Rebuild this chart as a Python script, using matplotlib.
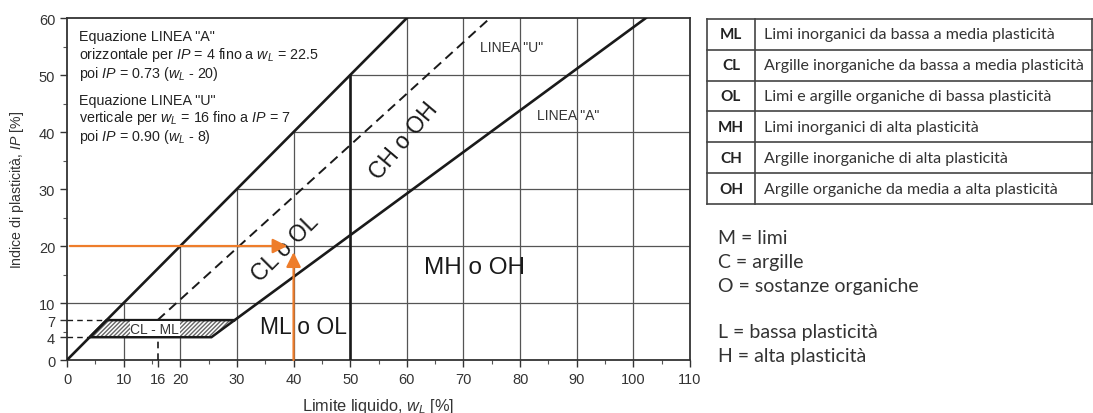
import matplotlib
matplotlib.use("Agg")
import matplotlib.pyplot as plt
from matplotlib.patches import Polygon

plt.rcParams['font.family'] = ['Liberation Sans', 'DejaVu Sans']
plt.rcParams['mathtext.fontset'] = 'custom'
plt.rcParams['mathtext.rm'] = 'Liberation Sans'
plt.rcParams['mathtext.it'] = 'Liberation Sans:italic'

# lines (wL, IP)
upper_x = [0, 60]
upper_y = [0, 60]
line_a_x = [29.6, 102.2]
line_a_y = [7, 60]
line_u_x = [16, 74.7]
line_u_y = [7, 60]
wl50_x = [50, 50]
wl50_y = [0, 50]
clml_x = [4, 25.5, 29.6, 7]
clml_y = [4, 4, 7, 7]

x_ticks = [0, 10, 16, 20, 30, 40, 50, 60, 70, 80, 90, 100, 110]
y_ticks = [0, 4, 7, 10, 20, 30, 40, 50, 60]
grid_x = [10, 20, 30, 40, 50, 60, 70, 80, 90, 100]
grid_y = [10, 20, 30, 40, 50]
# where each horizontal grid line starts (most start on the IP = wL line)
grid_y_start = [0, 20, 30, 40, 50]

sample_wl = 40
sample_ip = 20

codes = ['ML', 'CL', 'OL', 'MH', 'CH', 'OH']
descriptions = [
    'Limi inorganici da bassa a media plasticità',
    'Argille inorganiche da bassa a media plasticità',
    'Limi e argille organiche di bassa plasticità',
    'Limi inorganici di alta plasticità',
    'Argille inorganiche di alta plasticità',
    'Argille organiche da media a alta plasticità',
]
key_lines = ['M = limi', 'C = argille', 'O = sostanze organiche', '', 'L = bassa plasticità', 'H = alta plasticità']

orange = '#EE7D2B'
dark = '#1a1a1a'

fig = plt.figure(figsize=(10.93, 4.14), dpi=100)
ax = fig.add_axes([0.0613, 0.128, 0.57, 0.826])

# grid (only below the IP = wL line)
for gx in grid_x:
    ax.plot([gx, gx], [0, min(gx, 60)], color='#555555', lw=0.9, zorder=1)
for gy, gs in zip(grid_y, grid_y_start):
    ax.plot([gs, 110], [gy, gy], color='#555555', lw=0.9, zorder=1)

# hatched CL-ML zone
poly = Polygon(list(zip(clml_x, clml_y)), closed=True, facecolor='white',
               edgecolor='#666666', hatch='////////', lw=0, zorder=2)
ax.add_patch(poly)
ax.add_patch(Polygon(list(zip(clml_x, clml_y)), closed=True, fill=False,
                     edgecolor=dark, lw=1.8, zorder=3))

# dashed guides
ax.plot([0, clml_x[0]], [4, 4], color=dark, lw=1, ls=(0, (4, 3)), zorder=3)
ax.plot([0, clml_x[3]], [7, 7], color=dark, lw=1, ls=(0, (4, 3)), zorder=3)
ax.plot([16, 16], [0, 4], color=dark, lw=1.2, ls=(0, (4, 3)), zorder=3)

# main lines
ax.plot(upper_x, upper_y, color=dark, lw=1.9, zorder=4)
ax.plot(line_a_x, line_a_y, color=dark, lw=1.9, zorder=4)
ax.plot(line_u_x, line_u_y, color=dark, lw=1.4, ls=(0, (5, 3)), zorder=4)
ax.plot(wl50_x, wl50_y, color=dark, lw=1.9, zorder=4)

# labels in the chart
ax.text(38.5, 19.8, 'CL o OL', rotation=45, fontsize=16.5, ha='center', va='center', color=dark)
ax.text(59.5, 38.5, 'CH o OH', rotation=50, fontsize=16.5, ha='center', va='center', color=dark)
ax.text(72, 16.3, 'MH o OH', fontsize=17.5, ha='center', va='center', color=dark)
ax.text(41.8, 5.8, 'ML o OL', fontsize=16.5, ha='center', va='center', color=dark)
ax.text(78.5, 55, 'LINEA "U"', fontsize=10, ha='center', va='center', color='#333333')
ax.text(88.5, 43, 'LINEA "A"', fontsize=10, ha='center', va='center', color='#333333')
ax.text(15.5, 5.5, 'CL - ML', fontsize=10, ha='center', va='center', color='#333333',
        bbox=dict(facecolor='white', edgecolor='none', pad=0.5), zorder=5)

ax.text(2.2, 58.0, 'Equazione LINEA "A"\n'
        r'orizzontale per $\it{IP}$ = 4 fino a $\it{w}_L$ = 22.5' '\n'
        r'poi $\it{IP}$ = 0.73 ($\it{w}_L$ - 20)',
        fontsize=10.3, va='top', ha='left', color='#222222', linespacing=1.1)
ax.text(2.2, 46.9, 'Equazione LINEA "U"\n'
        r'verticale per $\it{w}_L$ = 16 fino a $\it{IP}$ = 7' '\n'
        r'poi $\it{IP}$ = 0.90 ($\it{w}_L$ - 8)',
        fontsize=10.3, va='top', ha='left', color='#222222', linespacing=1.1)

# orange arrows for the sample
ax.annotate('', xy=(sample_wl - 0.6, sample_ip), xytext=(0, sample_ip),
            arrowprops=dict(arrowstyle='-|>', color=orange, lw=1.6, mutation_scale=22), zorder=6)
ax.annotate('', xy=(sample_wl, sample_ip - 0.6), xytext=(sample_wl, -0.5),
            arrowprops=dict(arrowstyle='-|>', color=orange, lw=1.6, mutation_scale=22), zorder=6)

ax.set_xlim(0, 110)
ax.set_ylim(0, 60)
ax.set_xticks(x_ticks)
ax.set_yticks(y_ticks)
ax.set_xticks(range(5, 110, 10), minor=True)
ax.set_yticks(range(5, 60, 10), minor=True)
ax.tick_params(which='major', direction='out', length=5, width=1, labelsize=10.5, colors='#333333')
ax.tick_params(which='minor', direction='out', length=3, width=0.8, colors='#555555')
for s in ax.spines.values():
    s.set_linewidth(1.3)
    s.set_color('#333333')
ax.set_xlabel(r'Limite liquido, $\it{w}_L$ [%]', fontsize=11.8, color='#333333', labelpad=7)
ax.set_ylabel(r'Indice di plasticità, $\it{IP}$ [%]', fontsize=10.2, color='#333333', labelpad=9)

# legend table on the right
tax = fig.add_axes([0.6468, 0.505, 0.353, 0.447])
tax.set_xlim(0, 386)
tax.set_ylim(len(codes), 0)
tax.axis('off')
for i, (c, d) in enumerate(zip(codes, descriptions)):
    tax.text(24, i + 0.5, c, fontsize=11, fontweight='bold', ha='center', va='center',
             family='Lato', color='#222222')
    tax.text(57, i + 0.5, d, fontsize=11.5, ha='left', va='center', family='Lato', color='#333333')
for i in range(len(codes) + 1):
    tax.plot([0, 386], [i, i], color='#444444', lw=1.2, clip_on=False)
tax.plot([0, 0], [0, len(codes)], color='#444444', lw=1.2, clip_on=False)
tax.plot([48, 48], [0, len(codes)], color='#444444', lw=1.2, clip_on=False)
tax.plot([385.5, 385.5], [0, len(codes)], color='#444444', lw=1.2, clip_on=False)

key_y = [0.425, 0.367, 0.307, 0.25, 0.196, 0.138]
for t, ky in zip(key_lines, key_y):
    if t:
        fig.text(0.657, ky, t, fontsize=14, family='Lato', color='#333333', va='center')

fig.savefig('out.png', dpi=100)
